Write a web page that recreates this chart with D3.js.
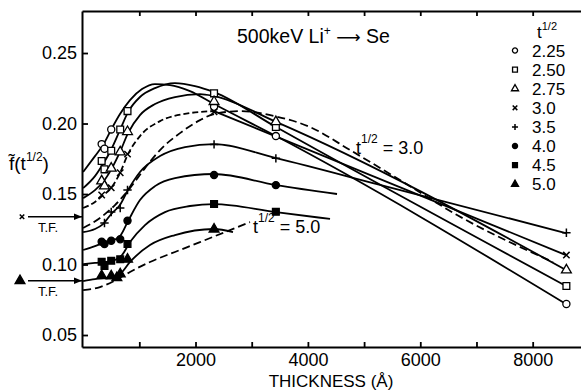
<!DOCTYPE html>
<html><head><meta charset="utf-8">
<script src="https://cdn.jsdelivr.net/npm/d3@7"></script>
<style>
body{margin:0;background:#fff}
svg{display:block}
text{font-family:"Liberation Sans",Arial,sans-serif;fill:#000}
</style>
</head><body>
<svg id="c" width="581" height="392"></svg>
<script>
// ---------- data ----------
const thickness = [330, 380, 500, 600, 660, 790, 2330, 3430, 8600];
const seriesNames = ["2.25", "2.50", "2.75", "3.0", "3.5", "4.0", "4.5", "5.0"];
const seriesSymbols = ["circle", "square", "triangle", "cross", "plus", "circleF", "squareF", "triangleF"];
const v225 = [0.1854, 0.1821, 0.1958, null, null, null, 0.2119, 0.1911, 0.0720];
const v250 = [0.1734, 0.1675, 0.1807, null, 0.1958, 0.2088, 0.2214, 0.1975, 0.0848];
const v275 = [0.1592, 0.1556, 0.1682, null, 0.1798, 0.1942, 0.2155, 0.2012, 0.0961];
const v300 = [0.1493, null, 0.1544, null, 0.1651, 0.1783, 0.2083, null, 0.1067];
const v350 = [null, 0.1294, 0.1372, null, 0.1401, 0.1528, 0.1852, 0.1753, 0.1225];
const v400 = [0.1162, 0.1145, 0.1169, null, 0.1179, 0.1310, 0.1635, 0.1563, null];
const v450 = [0.1020, 0.0989, 0.1027, null, 0.1037, 0.1145, 0.1429, 0.1374, null];
const v500 = [0.0921, null, 0.0918, 0.0906, 0.0933, 0.1037, 0.1250, null, null];

// fitted curves (thickness, value)
const curveT225 = [0, 211, 354, 496, 656, 834, 1048, 1279, 1546, 1902, 2329, 3433, 8593];
const curveV225 = [0.1656, 0.1769, 0.1847, 0.1954, 0.2067, 0.2166, 0.2244, 0.2280, 0.2273, 0.2230, 0.2138, 0.1911, 0.0720];
const curveT250 = [0, 211, 354, 478, 656, 799, 1012, 1279, 1635, 1991, 2329, 3433, 8593];
const curveV250 = [0.1542, 0.1627, 0.1713, 0.1798, 0.1954, 0.2081, 0.2188, 0.2251, 0.2287, 0.2266, 0.2223, 0.1975, 0.0848];
const curveT275 = [0, 211, 354, 514, 656, 799, 1012, 1279, 1635, 2080, 2329, 3433, 8593];
const curveV275 = [0.1471, 0.1528, 0.1585, 0.1684, 0.1798, 0.1932, 0.2060, 0.2138, 0.2188, 0.2209, 0.2195, 0.2012, 0.0961];
const curveT300a = [0, 211, 336, 496, 656, 799, 1012, 1368, 1902, 2329];
const curveV300a = [0.1401, 0.1444, 0.1486, 0.1542, 0.1649, 0.1783, 0.1911, 0.2017, 0.2074, 0.2088];
const curveT300b = [2329, 8593];
const curveV300b = [0.2088, 0.1067];
const curveT350 = [0, 211, 354, 514, 656, 799, 1012, 1368, 1813, 2329, 3433, 5283, 8593];
const curveV350 = [0.1230, 0.1252, 0.1287, 0.1365, 0.1422, 0.1528, 0.1656, 0.1769, 0.1833, 0.1854, 0.1755, 0.1565, 0.1223];
const curveT400 = [0, 211, 354, 496, 656, 799, 1012, 1279, 1635, 2329, 3433, 4518];
const curveV400 = [0.1103, 0.1131, 0.1152, 0.1167, 0.1202, 0.1308, 0.1457, 0.1556, 0.1613, 0.1642, 0.1563, 0.1500];
const curveT450 = [0, 211, 407, 567, 692, 834, 1101, 1457, 1902, 2329, 3433, 4394];
const curveV450 = [0.1003, 0.1011, 0.1018, 0.1032, 0.1067, 0.1159, 0.1280, 0.1372, 0.1415, 0.1429, 0.1372, 0.1323];
const curveT500 = [0, 211, 478, 656, 834, 1190, 1635, 2329, 2667];
const curveV500 = [0.0883, 0.0897, 0.0911, 0.0933, 0.1018, 0.1138, 0.1209, 0.1252, 0.1230];
// dashed curves t^1/2 = 3.0 and 5.0
const theoT300 = [0, 300, 567, 834, 1101, 1368, 1724, 2080, 2329, 2792, 3433, 4038, 4750, 5639, 6654, 8362];
const theoV300 = [0.1259, 0.1330, 0.1422, 0.1542, 0.1684, 0.1812, 0.1932, 0.2024, 0.2067, 0.2088, 0.2050, 0.1975, 0.1812, 0.1599, 0.1351, 0.1018];
const theoT500 = [0, 300, 585, 834, 1190, 1635, 2080, 2525, 2970];
const theoV500 = [0.0819, 0.0840, 0.0890, 0.0947, 0.1018, 0.1089, 0.1159, 0.1230, 0.1301];
// T.F. markers on the axis
const tfValues = [0.1339, 0.0885];
const tfSymbols = ["cross", "triangleF"];

const xTicks = [1000, 2000, 3000, 4000, 5000, 6000, 7000, 8000];
const xLabels = [2000, 4000, 6000, 8000];
const yTicks = [0.05, 0.10, 0.15, 0.20, 0.25];

// ---------- drawing ----------
const svg = d3.select("#c");
const x = d3.scaleLinear().domain([-20, 8860]).range([82, 581]);
const y = d3.scaleLinear().domain([0.0415, 0.2798]).range([347, 11]);
const [x0, x1] = x.range();
const [yb, yt] = y.range();

const zip = (T, V) => T.map((t, i) => [t, V[i]]);
const line = d3.line().x(d => x(d[0])).y(d => y(d[1])).curve(d3.curveMonotoneX);
const lineLin = d3.line().x(d => x(d[0])).y(d => y(d[1]));

const gLines = svg.append("g").attr("fill", "none").attr("stroke", "#000").attr("stroke-width", 1.8);
const solid = [[curveT225, curveV225], [curveT250, curveV250], [curveT275, curveV275],
  [curveT350, curveV350], [curveT400, curveV400], [curveT450, curveV450], [curveT500, curveV500]];
solid.forEach(([T, V]) => gLines.append("path").attr("d", line(zip(T, V))));
gLines.append("path").attr("d", line(zip(curveT300a, curveV300a))).attr("stroke-dasharray", "6,3");
gLines.append("path").attr("d", lineLin(zip(curveT300b, curveV300b)));
gLines.append("path").attr("d", line(zip(theoT300, theoV300))).attr("stroke-dasharray", "8,4");
gLines.append("path").attr("d", line(zip(theoT500, theoV500))).attr("stroke-dasharray", "8,4");

// axes
const axB = d3.axisBottom(x).tickValues(xTicks).tickSize(-5).tickSizeOuter(0).tickPadding(6)
  .tickFormat(d => xLabels.includes(d) ? String(d) : "");
const axT = d3.axisTop(x).tickValues(xTicks).tickSize(-5).tickSizeOuter(0).tickFormat("");
const axL = d3.axisLeft(y).tickValues(yTicks).tickSize(-6).tickSizeOuter(0).tickPadding(5)
  .tickFormat(d3.format(".2f"));
function style(g) {
  g.selectAll("path.domain").attr("stroke-width", 2);
  g.selectAll("line").attr("stroke-width", 1.8);
  g.selectAll("text").attr("font-size", 18).attr("font-family", "Liberation Sans, Arial, sans-serif");
}
svg.append("g").attr("transform", `translate(0,${yb})`).call(axB).call(style);
svg.append("g").attr("transform", `translate(0,${yt})`).call(axT).call(style);
svg.append("g").attr("transform", `translate(${x0},0)`).call(axL).call(style);

// markers
function symPath(type, s) {
  if (type.startsWith("circle")) return d3.symbol(d3.symbolCircle, 40 * s * s)();
  if (type.startsWith("square")) return d3.symbol(d3.symbolSquare, 46 * s * s)();
  if (type.startsWith("triangle")) return d3.symbol(d3.symbolTriangle, 42 * s * s)();
  if (type === "cross") { const r = 3.2 * s; return `M${-r},${-r}L${r},${r}M${-r},${r}L${r},${-r}`; }
  if (type === "plus") { const r = 4.2 * s; return `M${-r},0L${r},0M0,${-r}L0,${r}`; }
}
function drawSym(g, type, cx, cy, s) {
  const filled = type.endsWith("F");
  const lineOnly = type === "cross" || type === "plus";
  g.append("path").attr("transform", `translate(${cx},${cy})`).attr("d", symPath(type, s))
    .attr("fill", lineOnly ? "none" : (filled ? "#000" : "#fff"))
    .attr("stroke", "#000").attr("stroke-width", lineOnly ? 1.5 : 1.3);
}
const seriesValues = [v225, v250, v275, v300, v350, v400, v450, v500];
const gM = svg.append("g");
seriesValues.forEach((vals, si) => {
  vals.forEach((v, i) => { if (v != null) drawSym(gM, seriesSymbols[si], x(thickness[i]), y(v), 1); });
});

// legend
const gLeg = svg.append("g");
const tHead = gLeg.append("text").attr("x", 537).attr("y", 38).attr("font-size", 17);
tHead.append("tspan").text("t");
tHead.append("tspan").attr("font-size", 11).attr("dy", -8).text("1/2");
seriesNames.forEach((n, i) => {
  const by = 56.5 + i * 19.1;
  drawSym(gLeg, seriesSymbols[i], 515, by - 6, 0.72);
  gLeg.append("text").attr("x", 532).attr("y", by).attr("font-size", 17).text(n);
});

// title
const tt = svg.append("text").attr("x", 237).attr("y", 43).attr("font-size", 19.5);
tt.append("tspan").text("500keV Li");
tt.append("tspan").attr("font-size", 12).attr("dy", -8).text("+");
tt.append("tspan").attr("dy", 8).attr("font-family", "DejaVu Sans").attr("font-size", 17).text(" \u27F6 ");
tt.append("tspan").text("Se");

// curve labels
function tLabel(px, py, val) {
  const t = svg.append("text").attr("x", px).attr("y", py).attr("font-size", 18);
  t.append("tspan").text("t");
  t.append("tspan").attr("font-size", 12).attr("dy", -11).text("1/2");
  t.append("tspan").attr("dy", 11).text(" = " + val);
}
tLabel(356, 154, "3.0");
tLabel(253, 233, "5.0");

// axis titles
const yl = svg.append("text").attr("x", 9).attr("y", 170).attr("font-size", 19);
yl.append("tspan").text("f\u0303(t");
yl.append("tspan").attr("font-size", 12).attr("dy", -9).text("1/2");
yl.append("tspan").attr("dy", 9).text(")");
svg.append("text").attr("x", 331).attr("y", 387).attr("text-anchor", "middle").attr("font-size", 17)
  .text("THICKNESS (\u00C5)");

// T.F. arrows
svg.append("defs").append("marker").attr("id", "ah").attr("viewBox", "0 0 10 10")
  .attr("refX", 10).attr("refY", 5).attr("markerWidth", 8).attr("markerHeight", 8)
  .attr("markerUnits", "userSpaceOnUse").attr("orient", "auto")
  .append("path").attr("d", "M0,1L10,5L0,9Z").attr("fill", "#000");
tfValues.forEach((v, i) => {
  const yy = y(v);
  drawSym(svg, tfSymbols[i], i === 0 ? 22 : 20, yy, i === 0 ? 0.7 : 1);
  svg.append("line").attr("x1", 28).attr("x2", x0).attr("y1", yy).attr("y2", yy)
    .attr("stroke", "#000").attr("stroke-width", 1.5).attr("marker-end", "url(#ah)");
  svg.append("text").attr("x", 38).attr("y", yy + 15).attr("font-size", 13).text("T.F.");
});
</script>
</body></html>
